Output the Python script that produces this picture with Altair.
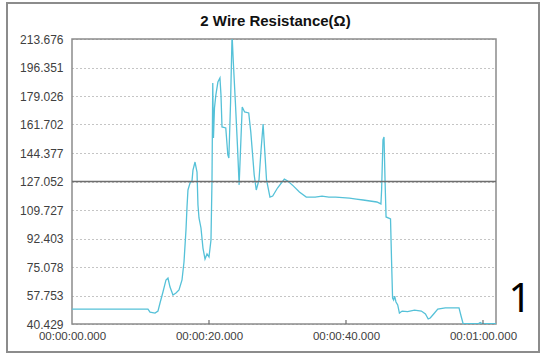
import altair as alt
import pandas as pd

# ---- data ----
t_sec = [0, 11.09, 11.39, 12.12, 12.55, 12.85, 13.28, 13.72, 14.01, 14.31, 14.74, 15.18, 15.62,
         16.06, 16.35, 16.64, 16.79, 16.93, 17.23, 17.52, 17.66, 17.96, 18.25, 18.39, 18.54,
         18.83, 19.12, 19.42, 19.71, 20.0, 20.29, 20.44, 20.55, 20.65, 20.8, 21.0, 21.3, 21.6,
         21.75, 21.9, 22.45, 22.75, 22.9, 23.15, 23.35, 23.4, 23.55, 23.85, 24.15, 24.4, 24.85,
         25.2, 25.8, 26.1, 26.6, 26.9, 27.3, 27.6, 27.9, 28.15, 28.4, 28.9, 29.3, 30.0, 31.0,
         31.5, 32.3, 33.2, 34.2, 35.5, 36.5, 37.5, 38.5, 39.5, 40.5, 41.5, 42.5, 43.5, 44.5,
         45.1, 45.2, 45.4, 45.55, 45.7, 45.85, 46.5, 46.65, 46.8, 46.95, 47.1, 47.3, 47.55,
         47.8, 48.2, 49.0, 50.0, 51.0, 51.6, 52.0, 52.3, 52.8, 53.4, 54.5, 56.0, 56.5, 56.8,
         57.1, 59.3, 59.6, 59.9, 61.9]
resistance = [49.5, 49.5, 47.7, 47.1, 48.3, 53.2, 59.9, 67.2, 68.4, 62.9, 58.1, 59.3, 61.1,
              67.2, 78.1, 97.6, 111.6, 121.9, 126.1, 127.4, 134.0, 138.9, 132.8, 112.8, 104.9,
              98.8, 86.6, 79.9, 83.0, 81.2, 91.5, 128.0, 186.9, 153.5, 171.7, 179.6, 187.5, 190.0,
              179.6, 160.2, 159.6, 143.2, 141.3, 175.4, 213.0, 213.5, 199.7, 175.4, 149.3, 125.0, 172.3,
              169.3, 168.7, 157.2, 131.0, 121.9, 128.0, 146.2, 162.0, 145.0, 128.0, 117.6, 118.2, 123.1, 128.5,
              127.4, 124.4, 120.7, 117.6, 117.6, 118.2, 117.6, 117.6, 117.3, 117.0, 116.4, 115.8, 115.2, 114.6,
              113.4, 121.9, 152.3, 154.1, 128.0, 105.5, 104.3, 79.3, 56.2, 55.0, 57.4, 53.8, 52.0,
              47.1, 48.3, 48.0, 48.9, 48.3, 46.5, 43.5, 44.1, 46.5, 49.5, 50.2, 50.2, 50.2, 45.3,
              40.6, 40.6, 41.3, 40.6, 40.6]

y_ticks = [40.429, 57.753, 75.078, 92.403, 109.727, 127.052, 144.377, 161.702, 179.026, 196.351, 213.676]
x_ticks = [0, 20, 40, 60]
x_labels = ["00:00:00.000", "00:00:20.000", "00:00:40.000", "00:01:00.000"]
title_text = ["2 Wire Resistance(Ω)"]
ref_level = [127.052]
side_note = ["1"]
x_max = 61.9

W, H = 424, 285
FONT = "Liberation Sans"

df = pd.DataFrame({"t": t_sec, "r": resistance})

label_expr = ""
for v, lab in zip(x_ticks, x_labels):
    label_expr += f"datum.value == {v} ? '{lab}' : "
label_expr += "''"

xscale = alt.Scale(domain=[0, x_max], nice=False, zero=False)
yscale = alt.Scale(domain=[y_ticks[0], y_ticks[-1]], nice=False, zero=False)

xaxis = alt.Axis(values=x_ticks, labelExpr=label_expr, grid=False, ticks=False,
                 domain=False, labelPadding=6, labelFontSize=11.5, labelFont=FONT,
                 labelColor="#404040", labelFlush=False, labelOverlap=False)
yaxis = alt.Axis(values=y_ticks, format=".3f", grid=True, gridDash=[1, 3],
                 gridColor="#8a8a8a", gridWidth=1, ticks=False, domain=False,
                 labelPadding=9, labelFontSize=12, labelFont=FONT,
                 labelColor="#404040", labelOverlap=False, labelFlush=False)

line = alt.Chart(df).mark_line(color="#55C1D8", strokeWidth=1.3, clip=True).encode(
    x=alt.X("t:Q", scale=xscale, title=None, axis=xaxis),
    y=alt.Y("r:Q", scale=yscale, title=None, axis=yaxis),
)

ref = alt.Chart(pd.DataFrame({"r": ref_level})).mark_rule(color="#6e6e6e", strokeWidth=1.5).encode(
    y=alt.Y("r:Q", scale=yscale, title=None, axis=yaxis)
)

xt = alt.Chart(pd.DataFrame({"t": x_ticks[1:]})).mark_rule(color="#6e6e6e", strokeWidth=1.2).encode(
    x=alt.X("t:Q", scale=xscale, title=None, axis=xaxis), y=alt.value(H), y2=alt.value(H - 4)
)

frame = alt.Chart(pd.DataFrame({"a": [0]})).mark_rect(
    fill=None, stroke="#8c8c8c", strokeWidth=2
).encode(x=alt.value(-65), x2=alt.value(467), y=alt.value(-36), y2=alt.value(313))

title = alt.Chart(pd.DataFrame({"s": title_text})).mark_text(
    font=FONT, fontSize=15, fontWeight="bold", color="#111111", baseline="middle", align="center"
).encode(x=alt.value(203.5), y=alt.value(-18), text="s:N")

note = alt.Chart(pd.DataFrame({"s": side_note})).mark_text(
    font="Noto Sans", fontSize=40, color="#000000", baseline="middle", align="center"
).encode(x=alt.value(448), y=alt.value(261), text="s:N")

chart = alt.layer(line, ref, xt, frame, title, note).properties(
    width=W, height=H,
    autosize=alt.AutoSizeParams(type="none"),
    padding={"left": 72, "top": 39, "right": 45, "bottom": 29},
    background="white",
).configure_view(stroke="#8c8c8c", strokeWidth=1.5)

chart.save("out.html", embed_options={"renderer": "svg", "actions": False})
